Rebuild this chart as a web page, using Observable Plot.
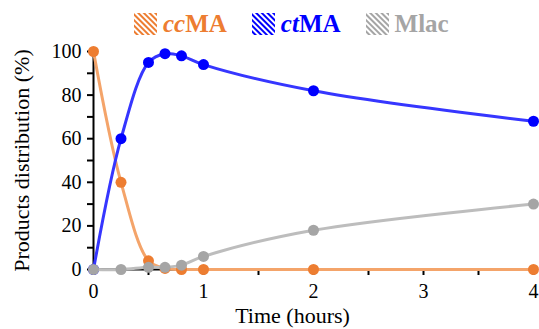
<!DOCTYPE html>
<html>
<head>
<meta charset="utf-8">
<script src="https://cdn.jsdelivr.net/npm/d3@7"></script>
<script src="https://cdn.jsdelivr.net/npm/@observablehq/plot@0.6"></script>
<style>
  html, body { margin: 0; padding: 0; background: #fff; }
  #wrap { width: 539px; height: 329px; position: relative; font-family: "Liberation Serif", serif; }
  #wrap svg text { font-family: "Liberation Serif", serif !important; }
  #legend { position: absolute; left: 134px; top: 13px; height: 22px; display: flex; align-items: center; font-weight: bold; font-size: 25px; line-height: 22px; z-index: 2; font-family: "Liberation Serif", serif; }
  .item { display: flex; align-items: center; margin-right: 25px; }
  .item svg { margin-right: 6px; display: block; }
  #chart { position: absolute; left: 0; top: 0; }
</style>
</head>
<body>
<div id="wrap">
  <div id="chart"></div>
  <div id="legend"></div>
</div>
<script>
const times = [0, 0.25, 0.5, 0.65, 0.8, 1, 2, 4];
const ccMA = [100, 40, 4, 0.5, 0, 0, 0, 0];
const ctMA = [0, 60, 95, 99, 98, 94, 82, 68];
const Mlac = [0, 0, 1, 1, 2, 6, 18, 30];
const seriesNames = ["ccMA", "ctMA", "Mlac"];
const seriesValues = [ccMA, ctMA, Mlac];
const lineColors = ["#F4A46A", "#3636FF", "#BDBDBD"];
const markerColors = ["#ED7D31", "#0000FF", "#A5A5A5"];
const legendHTML = ['<i>cc</i>MA', '<i>ct</i>MA', 'Mlac'];
const xTicks = [0, 1, 2, 3, 4];
const yTicks = [0, 20, 40, 60, 80, 100];

const data = seriesNames.flatMap((s, i) => times.map((t, j) => ({series: s, t, v: seriesValues[i][j]})));

// legend
const legend = document.getElementById("legend");
seriesNames.forEach((s, i) => {
  const item = document.createElement("div");
  item.className = "item";
  item.style.color = markerColors[i];
  item.innerHTML = `<svg width="23" height="22"><defs><pattern id="p${i}" width="4" height="4" patternUnits="userSpaceOnUse" patternTransform="rotate(45)"><rect width="4" height="4" fill="#fff"/><rect width="4" height="2" fill="${markerColors[i]}"/></pattern></defs><rect width="23" height="22" fill="url(#p${i})"/></svg><span>${legendHTML[i]}</span>`;
  legend.appendChild(item);
});

const chart = Plot.plot({
  width: 539,
  height: 329,
  marginLeft: 93,
  marginRight: 6,
  marginTop: 51,
  marginBottom: 60,
  style: {fontFamily: "Liberation Serif, serif", fontSize: "20px", color: "#000", background: "#fff"},
  x: {domain: [0, 4]},
  y: {domain: [0, 100]},
  marks: [
    Plot.axisY({ticks: d3.range(0, 101, 10), tickFormat: d => yTicks.includes(d) ? String(d) : "", tickSize: 6, tickPadding: 6, strokeWidth: 2, stroke: "#000", label: null, fontSize: 20}),
    Plot.axisX({ticks: d3.range(0, 4.01, 0.5), tickFormat: d => xTicks.includes(d) ? String(d) : "", tickSize: 6, tickPadding: 8, strokeWidth: 2, stroke: "#000", label: null, fontSize: 20}),
    Plot.text(["Products distribution (%)"], {frameAnchor: "left", dx: -72, rotate: -90, textAnchor: "middle", fontSize: 22, fill: "#000"}),
    Plot.text(["Time (hours)"], {frameAnchor: "bottom", dx: -21, dy: 46, textAnchor: "middle", lineAnchor: "middle", fontSize: 22, fill: "#000"}),
    Plot.ruleX([0], {stroke: "#000", strokeWidth: 2}),
    Plot.ruleY([0], {stroke: "#000", strokeWidth: 2}),
    ...seriesNames.flatMap((s, i) => [
      Plot.line(data.filter(d => d.series === s), {x: "t", y: "v", stroke: lineColors[i], strokeWidth: 3, curve: "catmull-rom"}),
      Plot.dot(data.filter(d => d.series === s), {x: "t", y: "v", r: 5.5, fill: markerColors[i], stroke: "none"})
    ])
  ]
});
document.getElementById("chart").appendChild(chart);
</script>
</body>
</html>
